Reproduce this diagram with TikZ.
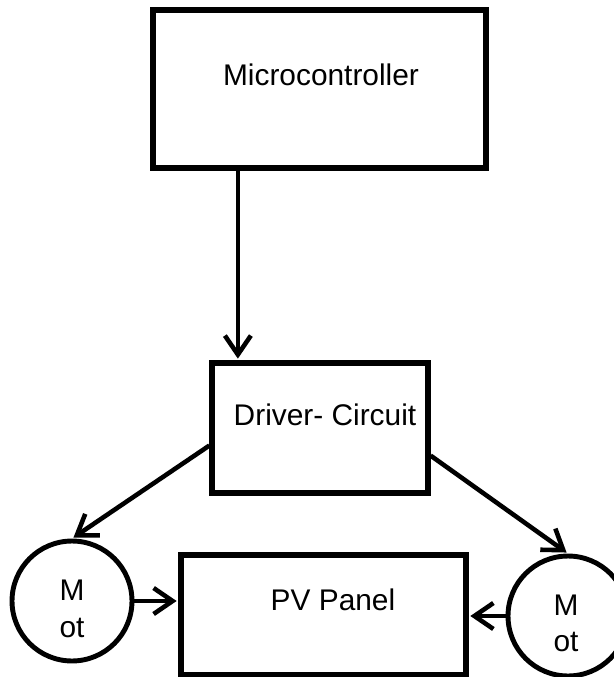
\documentclass[tikz,border=0pt]{standalone}
\usepackage{fontspec}
\setmainfont{Liberation Sans}
\usetikzlibrary{arrows.meta}
\tikzset{
  block/.style={rectangle,draw,line width=3pt,inner sep=0pt},
  motor/.style={circle,draw,line width=2.8pt,minimum size=2.4cm,inner sep=0pt},
  lbl/.style={font=\fontsize{17}{20.8}\selectfont,align=center,inner sep=0pt},
  conn/.style={line width=2.6pt,shorten >=1pt,-{Straight Barb[length=3.8mm,width=5.2mm]}}
}
\begin{document}
\begin{tikzpicture}[x=0.02cm,y=-0.02cm]
  \useasboundingbox (0,0) rectangle (614,677);
  % boxes
  \node[block,minimum width=6.66cm,minimum height=3.16cm] (mcu) at (319.5,89) {};
  \node[block,minimum width=4.32cm,minimum height=2.6cm] (driver) at (320,428) {};
  \node[block,minimum width=5.7cm,minimum height=2.4cm] (pv) at (323.5,615) {};
  \node[motor] (motL) at (72,601) {};
  \node[motor] (motR) at (568,616) {};
  % texts
  \node[lbl] (mcuText) at (321,75) {Microcontroller};
  \node[lbl] (driverText) at (325,415) {Driver- Circuit};
  \node[lbl] (pvText) at (333,600) {PV Panel};
  \node[lbl] (motLText) at (72,609) {M\\ot};
  \node[lbl] (motRText) at (566,623.5) {M\\ot};
  % arrows
  \draw[conn] (mcu.225) -- (mcu.225 |- driver.north);
  \draw[conn] (driver.189) -- (motL.north);
  \draw[conn] (driver.346) -- (motR.north);
  \draw[conn] (motL.east) -- (motL.east -| pv.west);
  \draw[conn] (motR.west) -- (motR.west -| pv.east);
\end{tikzpicture}
\end{document}
